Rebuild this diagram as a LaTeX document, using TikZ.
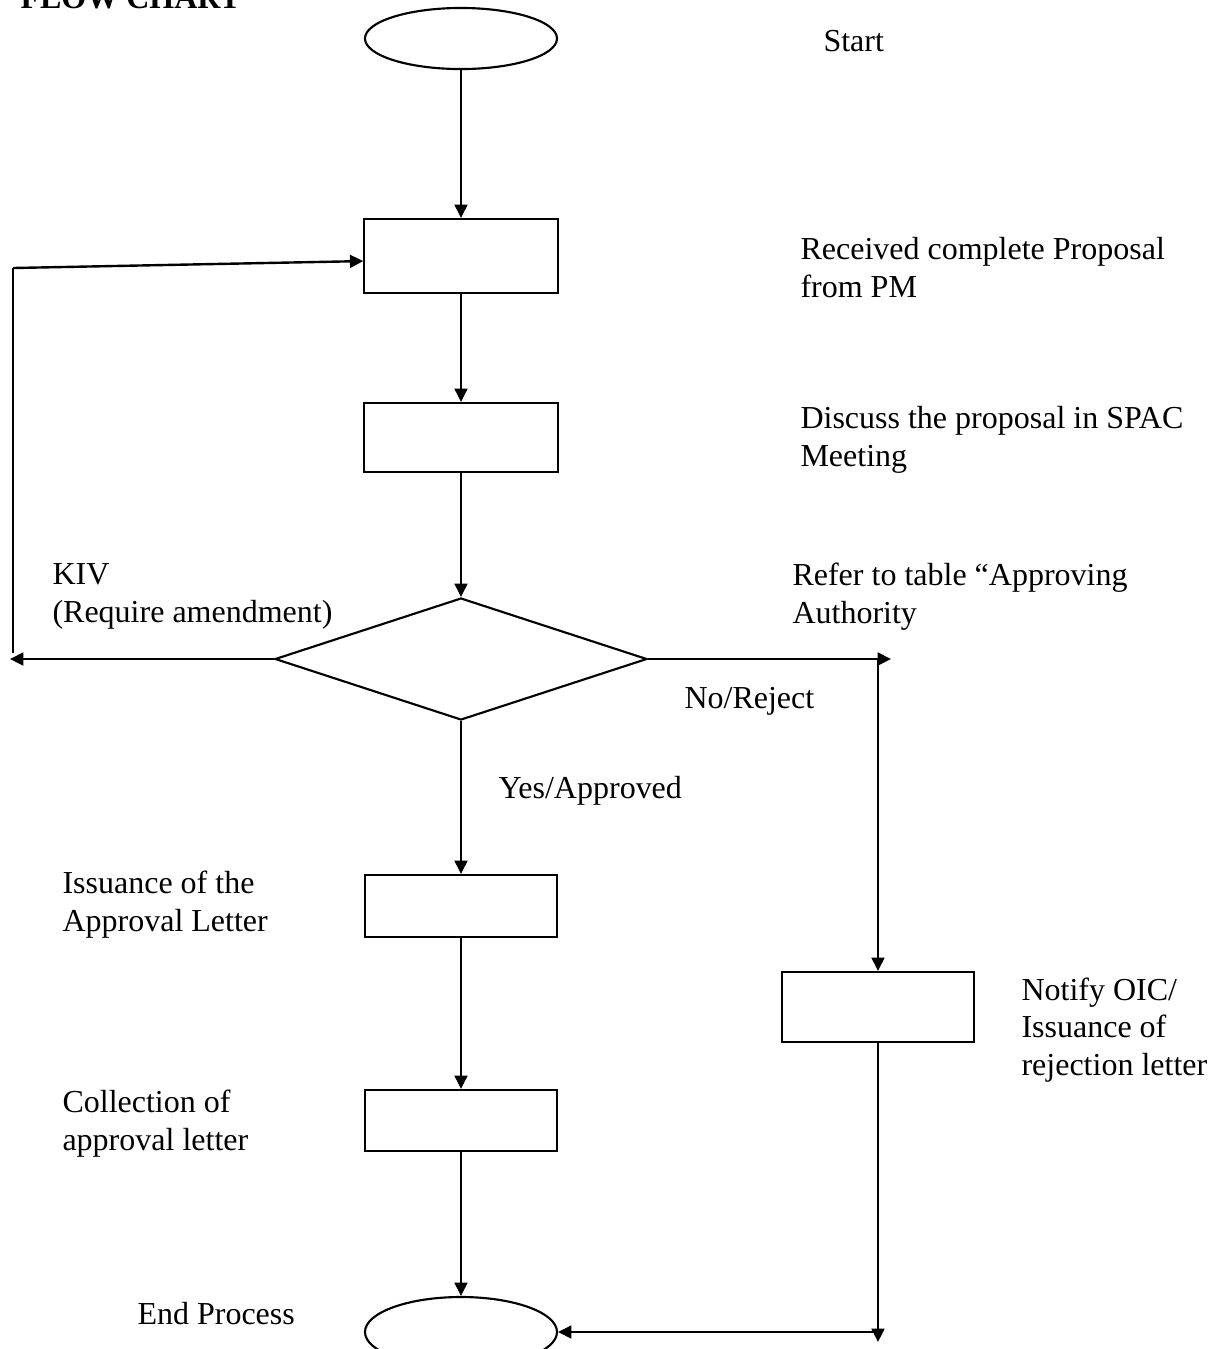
\documentclass[tikz,border=0pt]{standalone}
\usepackage{fontspec}
\setmainfont{Liberation Serif}
\usetikzlibrary{shapes.geometric,arrows.meta}
\begin{document}
\begin{tikzpicture}[x=0.375pt,y=-0.375pt,
  shapeline/.style={draw, line width=0.8pt, inner sep=0pt},
  procbox/.style={shapeline, rectangle, minimum width=72.5pt},
  term/.style={shapeline, ellipse, minimum width=72pt},
  arr/.style={line width=0.9pt, -{Triangle[length=5pt,width=4.8pt]}},
  plainline/.style={line width=0.9pt},
  lbl/.style={anchor=base west, inner sep=0pt, align=left, font=\fontsize{12pt}{13.9pt}\selectfont}
]
\useasboundingbox (0,0) rectangle (1222,1349);

% shapes
\node[term, minimum height=22.9pt] (start) at (461,38.5) {};
\node[procbox, minimum height=27.75pt] (box1) at (461,256) {};
\node[procbox, minimum height=25.9pt] (box2) at (461,437.5) {};
\node[shapeline, diamond, minimum width=139.5pt, minimum height=45.75pt] (dec) at (461,659) {};
\node[procbox, minimum width=72pt, minimum height=23.25pt] (box3) at (461,906) {};
\node[procbox, minimum width=72pt, minimum height=22.9pt] (box4) at (461,1120.5) {};
\node[procbox, minimum width=72pt, minimum height=26.25pt] (notify) at (878,1007) {};
\node[term, minimum height=26.25pt] (end) at (461,1332) {};

% free ends
\coordinate (kivEnd) at (10,659);
\coordinate (kivBot) at (13,653);
\coordinate (kivTop) at (13,268);
\coordinate (rejEnd) at (891,659);
\coordinate (rejTop) at (878,659);
\coordinate (rejBot) at (878,1342);
\coordinate (rejCorner) at (874,1332);

% connectors
\draw[arr] (start.south) -- (box1.north);
\draw[arr] (box1.south) -- (box2.north);
\draw[arr] (box2.south) -- (dec.north);
\draw[arr] (dec.west) -- (kivEnd);
\draw[plainline] (kivBot) -- (kivTop);
\draw[arr] (kivTop) -- ([yshift=-1.9pt]box1.west);
\draw[arr] (dec.east) -- (rejEnd);
\draw[arr] (rejTop) -- (notify.north);
\draw[arr] (notify.south) -- (rejBot);
\draw[arr] (rejCorner) -- (end.east);
\draw[arr] (dec.south) -- (box3.north);
\draw[arr] (box3.south) -- (box4.north);
\draw[arr] (box4.south) -- (end.north);

% labels (base anchor = last line's baseline)
\node[lbl, font=\fontsize{12pt}{13.9pt}\selectfont\bfseries] (title) at (20,8) {FLOW CHART};
\node[lbl] (tStart) at (823,51) {Start};
\node[lbl] (tRecv) at (800,297) {Received complete Proposal\\from PM};
\node[lbl] (tDisc) at (800,466) {Discuss the proposal in SPAC\\Meeting};
\node[lbl] (tRefer) at (792,623) {Refer to table “Approving\\Authority};
\node[lbl] (tKIV) at (52,622) {KIV\\(Require amendment)};
\node[lbl] (tNo) at (684,708) {No/Reject};
\node[lbl] (tYes) at (498,798) {Yes/Approved};
\node[lbl] (tIss) at (62,931) {Issuance of the\\Approval Letter};
\node[lbl] (tColl) at (62,1150) {Collection of\\approval letter};
\node[lbl] (tNotify) at (1021,1075) {Notify OIC/\\Issuance of\\rejection letter};
\node[lbl] (tEnd) at (137,1324) {End Process};
\end{tikzpicture}
\end{document}
